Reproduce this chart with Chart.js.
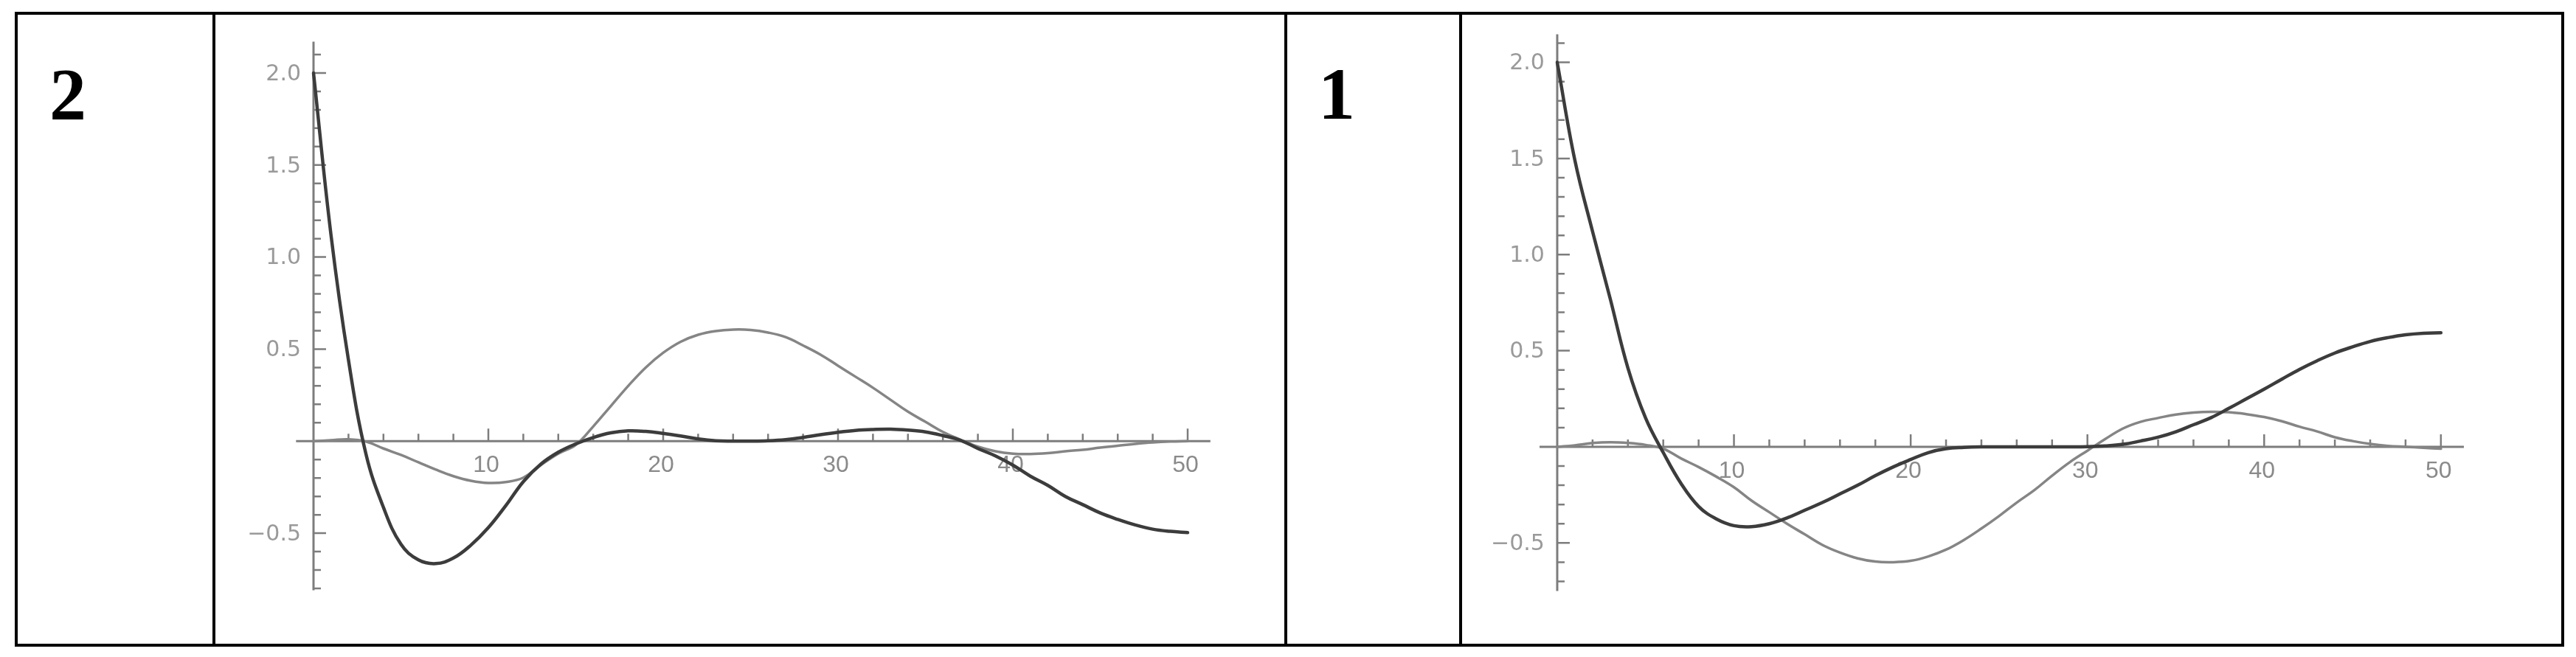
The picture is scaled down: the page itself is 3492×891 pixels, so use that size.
<!DOCTYPE html>
<html>
<head>
<meta charset="utf-8">
<title>Two panels</title>
<script src="https://cdn.jsdelivr.net/npm/chart.js@4.4.1/dist/chart.umd.min.js"></script>
<style>
  html, body { margin: 0; padding: 0; background: #fff; }
  body { width: 3492px; height: 891px; position: relative; overflow: hidden; }
  .frame { position: absolute; left: 20px; top: 16px; width: 3456px; height: 861px; border: 4px solid #000; box-sizing: border-box; }
  .vline { position: absolute; top: 16px; width: 4px; height: 861px; background: #000; }
  .num { position: absolute; font-family: "Liberation Serif", "Times New Roman", serif; font-weight: bold; font-size: 100px; line-height: 100px; color: #000; }
  canvas { position: absolute; }
</style>
</head>
<body>
<div class="frame"></div>
<div class="vline" style="left:288px"></div>
<div class="vline" style="left:1741px"></div>
<div class="vline" style="left:1978px"></div>
<div class="num" style="left:67px; top:78px">2</div>
<div class="num" style="left:1787px; top:78px">1</div>
<canvas id="chart2" width="1445" height="850" style="left:294px; top:22px"></canvas>
<canvas id="chart1" width="1486" height="850" style="left:1984px; top:22px"></canvas>
<script>
// x positions shared by all curves
const xs = [0, 1, 2, 3, 4, 5, 6, 7, 8, 9, 10, 11, 12, 13, 14, 15, 16, 17, 18, 19, 20,
  21, 22, 23, 24, 25, 26, 27, 28, 29, 30, 31, 32, 33, 34, 35, 36, 37, 38, 39, 40,
  41, 42, 43, 44, 45, 46, 47, 48, 49, 50];

// panel "2"
const panel2Dark = [2.0, 1.12, 0.44, -0.07, -0.36, -0.56, -0.645, -0.665, -0.635, -0.565, -0.47,
  -0.35, -0.22, -0.125, -0.06, -0.015, 0.02, 0.045, 0.056, 0.053, 0.042,
  0.028, 0.012, 0.002, 0.0, 0.0, 0.002, 0.008, 0.02, 0.035, 0.048,
  0.058, 0.063, 0.065, 0.06, 0.05, 0.03, 0.005, -0.04, -0.08, -0.13,
  -0.19, -0.24, -0.30, -0.345, -0.39, -0.425, -0.455, -0.478, -0.49, -0.497];
const panel2Light = [0, 0.005, 0.01, -0.002, -0.04, -0.075, -0.115, -0.155, -0.19, -0.215, -0.227,
  -0.222, -0.198, -0.13, -0.068, -0.02, 0.08, 0.19, 0.30, 0.40, 0.48,
  0.54, 0.578, 0.598, 0.606, 0.604, 0.59, 0.565, 0.52, 0.47, 0.41,
  0.35, 0.29, 0.225, 0.16, 0.105, 0.05, 0.008, -0.03, -0.055, -0.068,
  -0.07, -0.065, -0.055, -0.047, -0.035, -0.025, -0.015, -0.007, -0.002, 0];

// panel "1"
const panel1Dark = [2.0, 1.49, 1.12, 0.77, 0.41, 0.15, -0.03, -0.19, -0.31, -0.375, -0.41,
  -0.415, -0.40, -0.37, -0.33, -0.29, -0.245, -0.2, -0.15, -0.105, -0.066,
  -0.03, -0.01, -0.003, 0, 0, 0, 0, 0, 0, 0.001,
  0.005, 0.013, 0.03, 0.05, 0.078, 0.115, 0.152, 0.2, 0.25, 0.3,
  0.352, 0.403, 0.448, 0.488, 0.52, 0.548, 0.568, 0.583, 0.591, 0.593];
const panel1Light = [0, 0.008, 0.02, 0.024, 0.02, 0.01, -0.01, -0.06, -0.105, -0.155, -0.21,
  -0.28, -0.34, -0.4, -0.455, -0.51, -0.55, -0.58, -0.597, -0.6, -0.593,
  -0.57, -0.535, -0.485, -0.425, -0.36, -0.29, -0.225, -0.15, -0.08, -0.02,
  0.04, 0.095, 0.13, 0.15, 0.168, 0.178, 0.182, 0.18, 0.17, 0.155,
  0.133, 0.105, 0.08, 0.05, 0.03, 0.015, 0.005, 0, -0.005, -0.01];

// tick labels
const xTickValues = [10, 20, 30, 40, 50];
const xTickLabels = ['10', '20', '30', '40', '50'];
const yTickValues = [-0.5, 0.5, 1.0, 1.5, 2.0];
const yTickLabels = ['\u22120.5', '0.5', '1.0', '1.5', '2.0'];

const DARK = '#3c3c3c';
const LIGHT = '#858585';
const AXIS = '#7d7d7d';

// Mathematica-like axes through the origin, ticks pointing inward
const originAxes = {
  id: 'originAxes',
  beforeDatasetsDraw(chart) {
    const { ctx, chartArea: area, scales: { x, y } } = chart;
    const x0 = x.getPixelForValue(0);
    const y0 = y.getPixelForValue(0);
    ctx.save();
    ctx.strokeStyle = AXIS;
    ctx.lineWidth = 3;
    ctx.beginPath();
    ctx.moveTo(area.left, y0); ctx.lineTo(area.right, y0);
    ctx.moveTo(x0, area.top); ctx.lineTo(x0, area.bottom);
    ctx.stroke();

    ctx.lineWidth = 2.5;
    ctx.beginPath();
    for (let v = 2; v <= x.max; v += 2) {
      const px = x.getPixelForValue(v);
      const len = v % 10 === 0 ? 17 : 10;
      ctx.moveTo(px, y0); ctx.lineTo(px, y0 - len);
    }
    for (let k = Math.ceil(y.min * 10); k <= Math.floor(y.max * 10); k++) {
      if (k === 0) continue;
      const py = y.getPixelForValue(k / 10);
      const len = k % 5 === 0 ? 17 : 10;
      ctx.moveTo(x0, py); ctx.lineTo(x0 + len, py);
    }
    ctx.stroke();

    ctx.fillStyle = '#8a8a8a';
    ctx.font = '32px "Liberation Sans", Arial, sans-serif';
    ctx.textAlign = 'center';
    ctx.textBaseline = 'alphabetic';
    xTickValues.forEach((v, i) => {
      ctx.fillText(xTickLabels[i], x.getPixelForValue(v) - 3, y0 + 42);
    });

    ctx.fillStyle = '#9a9a9a';
    ctx.font = '30px "DejaVu Sans", sans-serif';
    ctx.textAlign = 'right';
    ctx.textBaseline = 'middle';
    yTickValues.forEach((v, i) => {
      ctx.fillText(yTickLabels[i], x0 - 17, y.getPixelForValue(v) + 2);
    });
    ctx.restore();
  }
};

function drawPanel(id, canvasBox, plotBox, range, dark, light) {
  const points = vals => xs.map((x, i) => ({ x, y: vals[i] }));
  new Chart(document.getElementById(id), {
    type: 'line',
    data: {
      datasets: [
        { data: points(dark), borderColor: DARK, borderWidth: 4.5 },
        { data: points(light), borderColor: LIGHT, borderWidth: 3.5 }
      ]
    },
    options: {
      responsive: false,
      animation: false,
      devicePixelRatio: 1,
      clip: false,
      elements: {
        point: { radius: 0 },
        line: { tension: 0.4, fill: false, borderJoinStyle: 'round', borderCapStyle: 'round' }
      },
      layout: {
        padding: {
          left: plotBox.left - canvasBox.left,
          right: canvasBox.right - plotBox.right,
          top: plotBox.top - canvasBox.top,
          bottom: canvasBox.bottom - plotBox.bottom
        }
      },
      plugins: { legend: { display: false }, tooltip: { enabled: false } },
      scales: {
        x: { type: 'linear', display: false, min: range.xMin, max: range.xMax },
        y: { type: 'linear', display: false, min: range.yMin, max: range.yMax }
      }
    },
    plugins: [originAxes]
  });
}

// panel 2 (left)
drawPanel('chart2',
  { left: 294, right: 1739, top: 22, bottom: 872 },
  { left: 401.3, right: 1640.8, top: 56.5, bottom: 800.5 },
  { xMin: -1, xMax: 51.3, yMin: -0.81, yMax: 2.17 },
  panel2Dark, panel2Light);

// panel 1 (right)
drawPanel('chart1',
  { left: 1984, right: 3470, top: 22, bottom: 872 },
  { left: 2087, right: 3340, top: 46.5, bottom: 801.5 },
  { xMin: -1, xMax: 51.3, yMin: -0.75, yMax: 2.146 },
  panel1Dark, panel1Light);
</script>
</body>
</html>
